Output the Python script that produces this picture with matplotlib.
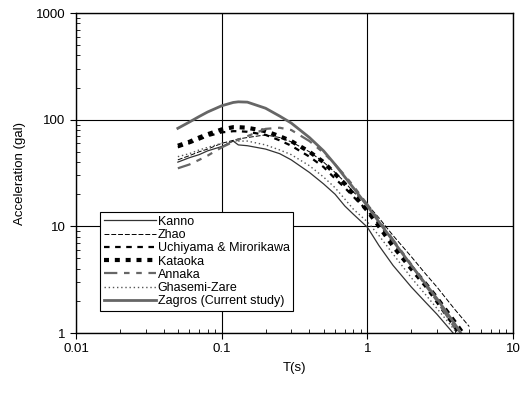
import matplotlib
matplotlib.use('Agg')
import matplotlib.pyplot as plt
from matplotlib.ticker import FuncFormatter, LogLocator, NullFormatter

plt.rcParams['font.family'] = ['Liberation Sans', 'DejaVu Sans']

# periods (s)
periods = [0.05, 0.06, 0.07, 0.08, 0.1, 0.12, 0.13, 0.15, 0.2, 0.25, 0.3, 0.4,
           0.5, 0.6, 0.7, 0.8, 1.0, 1.2, 1.5, 2.0, 2.5, 3.0, 4.0, 5.0]

# spectral acceleration (gal)
kanno = [40, 44, 47, 51, 56, 63, 58, 57, 53, 48, 42, 32,
         25, 20, 15.5, 13, 9.8, 6.6, 4.3, 2.7, 1.95, 1.5, 0.95, 0.6]
zhao = [42, 46, 50, 53, 60, 64, 66, 68, 72, 68, 62, 50,
        40, 32, 26, 21, 16, 12, 8.2, 5.2, 3.6, 2.7, 1.65, 1.15]
uchiyama = [55, 60, 65, 70, 76, 78, 78, 77, 72, 64, 57, 45,
            36, 28, 23, 19, 14, 10.5, 7, 4.3, 3.0, 2.2, 1.3, 0.85]
kataoka = [57, 62, 68, 73, 81, 85, 85, 84, 78, 70, 63, 50,
           40, 31, 25, 20, 14, 10, 6.5, 4.0, 2.8, 2.0, 1.15, 0.7]
annaka = [35, 38, 42, 46, 55, 62, 65, 70, 82, 84, 80, 63,
          49, 38, 30, 24, 16, 11.5, 7.5, 4.4, 2.8, 2.0, 1.1, 0.7]
ghasemi = [45, 48, 52, 55, 60, 62, 63, 63, 58, 52, 47, 37,
           29, 23, 18, 14.5, 11, 8.2, 5.5, 3.3, 2.3, 1.7, 1.05, 0.7]
zagros = [83, 95, 107, 118, 135, 145, 147, 146, 128, 108, 93, 68,
          51, 38, 29, 23, 15.5, 11, 7.3, 4.3, 2.9, 2.1, 1.2, 0.75]

labels = ['Kanno', 'Zhao', 'Uchiyama & Mirorikawa', 'Kataoka', 'Annaka',
          'Ghasemi-Zare', 'Zagros (Current study)']

fig = plt.figure(figsize=(5.22, 3.94), dpi=100)
ax = fig.add_axes([0.1456, 0.1548, 0.8374, 0.8122])

ax.plot(periods, kanno, color='#333333', lw=0.9, label=labels[0])
ax.plot(periods, zhao, color='black', lw=0.7, dashes=(5, 2), label=labels[1])
ax.plot(periods, uchiyama, color='black', lw=1.6, dashes=(2.5, 2.5), label=labels[2])
ax.plot(periods, kataoka, color='black', lw=3, dashes=(1.2, 1.4), label=labels[3])
ax.plot(periods, annaka, color='#666666', lw=1.6, dashes=(6, 3, 2.5, 3, 2.5, 3), label=labels[4])
ax.plot(periods, ghasemi, color='#555555', lw=1, dashes=(1, 2), label=labels[5])
ax.plot(periods, zagros, color='#666666', lw=2, label=labels[6])

ax.set_xscale('log')
ax.set_yscale('log')
ax.set_xlim(0.01, 10)
ax.set_ylim(1, 1000)

fmt = FuncFormatter(lambda v, _: f'{v:g}')
ax.xaxis.set_major_formatter(fmt)
ax.yaxis.set_major_formatter(fmt)
ax.xaxis.set_minor_locator(LogLocator(base=10, subs=range(2, 10)))
ax.yaxis.set_minor_locator(LogLocator(base=10, subs=range(2, 10)))
ax.xaxis.set_minor_formatter(NullFormatter())
ax.yaxis.set_minor_formatter(NullFormatter())
ax.tick_params(which='major', direction='out', length=4, width=0.8, labelsize=9.5)
ax.tick_params(which='minor', direction='in', length=3, width=0.6)

ax.grid(True, which='major', color='black', lw=0.8)
for s in ax.spines.values():
    s.set_linewidth(1)

ax.set_xlabel('T(s)', fontsize=9.5, labelpad=5)
ax.set_ylabel('Acceleration (gal)', fontsize=9.5, labelpad=7)

leg = ax.legend(loc='upper left', bbox_to_anchor=(0.055, 0.378), borderaxespad=0,
                fontsize=9, handlelength=4.2, handletextpad=0.1,
                labelspacing=0.1, borderpad=0.3, fancybox=False, framealpha=1)
leg.get_frame().set_edgecolor('black')
leg.get_frame().set_linewidth(0.8)

fig.savefig('out.png', dpi=100)
